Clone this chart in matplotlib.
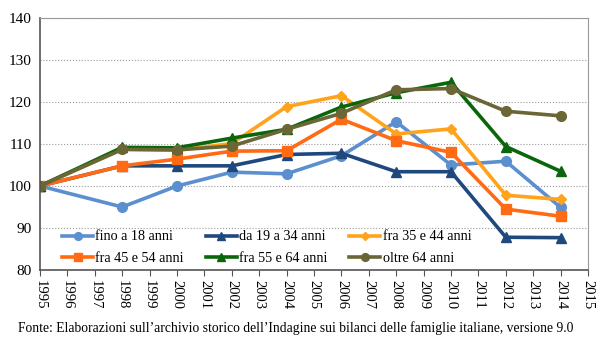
import numpy as np
import matplotlib.pyplot as plt

plt.rcParams['font.family'] = ['Liberation Serif', 'DejaVu Serif']

anni = [1995, 1998, 2000, 2002, 2004, 2006, 2008, 2010, 2012, 2014]

fino_18 = [100, 95.0, 100.0, 103.3, 102.9, 107.2, 115.3, 105.0, 105.9, 94.9]
da_19_34 = [100, 104.8, 104.8, 104.8, 107.5, 107.8, 103.4, 103.4, 87.8, 87.7]
fra_35_44 = [100, 108.8, 108.5, 110.1, 118.9, 121.5, 112.4, 113.6, 97.8, 96.8]
fra_45_54 = [100, 104.8, 106.4, 108.3, 108.4, 115.9, 110.8, 108.0, 94.5, 92.8]
fra_55_64 = [100, 109.2, 109.1, 111.4, 113.5, 118.8, 122.2, 124.7, 109.4, 103.5]
oltre_64 = [100, 108.7, 108.6, 109.5, 113.5, 117.3, 122.9, 123.2, 117.8, 116.7]

serie = [
    ("fino a 18 anni", fino_18, '#5b8fcf', 'o', 7),
    ("da 19 a 34 anni", da_19_34, '#1f497d', '^', 7),
    ("fra 35 e 44 anni", fra_35_44, '#ffa31a', 'D', 5),
    ("fra 45 e 54 anni", fra_45_54, '#ff6a13', 's', 7),
    ("fra 55 e 64 anni", fra_55_64, '#0b660b', '^', 7),
    ("oltre 64 anni", oltre_64, '#6b6636', 'o', 7),
]

fig = plt.figure(figsize=(6, 3.46), dpi=100)
ax = fig.add_axes([40/600, 1 - 270/346, 548/600, 252/346])

linee = []
for nome, valori, colore, marker, ms in serie:
    l, = ax.plot(anni, valori, color=colore, lw=2.6, marker=marker, ms=ms, label=nome)
    linee.append(l)

ax.set_xlim(1995, 2015)
ax.set_ylim(80, 140)
ax.set_xticks(range(1995, 2016))
ax.set_xticklabels([str(a) for a in range(1995, 2016)], rotation=-90, fontsize=10.5)
ax.set_yticks(range(80, 141, 10))
ax.tick_params(axis='y', labelsize=11, length=0, pad=6)
ax.tick_params(axis='x', length=4, direction='out', color='#555555')
ax.grid(axis='y', color='#999999', ls=':', lw=0.8)
for s in ['top', 'right']:
    ax.spines[s].set_color('#999999')
for s in ['left', 'bottom']:
    ax.spines[s].set_color('#555555')
    ax.spines[s].set_linewidth(1.2)

# matplotlib riempie per colonne: riordino per avere le righe come nell'originale
ordine = [0, 3, 1, 4, 2, 5]
ax.legend([linee[i] for i in ordine], [serie[i][0] for i in ordine],
          loc='lower left', bbox_to_anchor=(0.04, 0.02), ncol=3, frameon=False,
          fontsize=10.2, handlelength=2.2, handletextpad=0.15, columnspacing=1.55,
          labelspacing=0.6, markerscale=0.8, borderaxespad=0, borderpad=0)

fig.text(0.03, 1 - 328/346,
         "Fonte: Elaborazioni sull\u2019archivio storico dell\u2019Indagine sui bilanci delle famiglie italiane, versione 9.0",
         fontsize=9.8, va='center')

fig.savefig('out.png', dpi=100)
